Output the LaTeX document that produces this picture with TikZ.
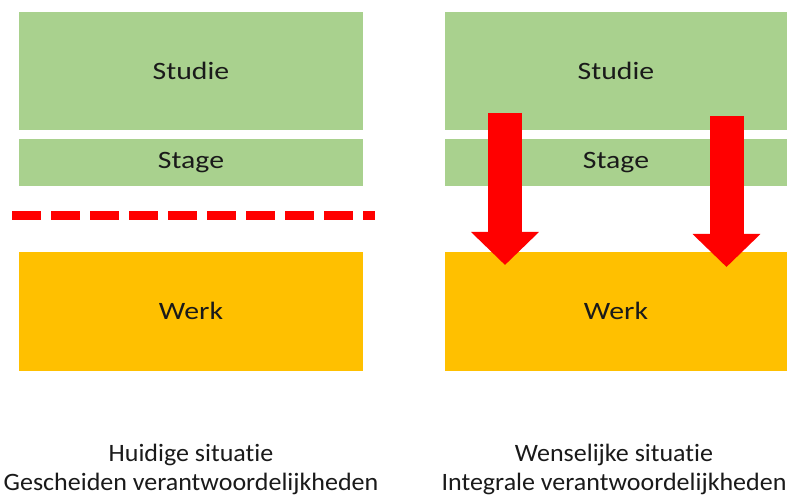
\documentclass[tikz,border=0pt]{standalone}
\usepackage{graphicx}
\usepackage{fontspec}
\setmainfont{Carlito}[Ligatures=NoCommon]
\usetikzlibrary{arrows.meta}
\definecolor{lgreen}{HTML}{A9D18E}
\definecolor{amber}{HTML}{FFC000}
\definecolor{bred}{HTML}{FF0000}
\definecolor{txt}{HTML}{1A1A1A}
\newcommand{\widetxt}[1]{\scalebox{1.19}[1]{#1}}
\newcommand{\captxt}[1]{\scalebox{1.04}[1]{#1}}
\tikzset{
  blk/.style={rectangle, inner sep=0pt, minimum width=344pt, text=txt,
    font=\fontsize{25}{30}\selectfont},
  studiebox/.style={blk, fill=lgreen, minimum height=118pt},
  stagebox/.style={blk, fill=lgreen, minimum height=46.5pt},
  werkbox/.style={blk, fill=amber, minimum height=119pt},
  divider/.style={draw=bred, line width=9pt, dash pattern=on 29pt off 10pt},
  bigarrow/.style={draw=bred, line width=34pt, -{Triangle[width=66pt,length=33pt]}},
  caption/.style={align=center, text=txt, font=\fontsize{25}{29}\selectfont, inner sep=0pt}
}
\begin{document}
\begin{tikzpicture}[x=1pt,y=-1pt]
\useasboundingbox[fill=white] (0,0) rectangle (787,497);
% left column
\node[studiebox] (studieL) at (191,71) {\widetxt{Studie}};
\node[stagebox]  (stageL)  at (191,162.5) {\widetxt{Stage}};
\node[werkbox]   (werkL)   at (191,311) {\widetxt{Werk}};
\coordinate (dashA) at (12,215.5);
\coordinate (dashB) at (375,215.5);
\draw[divider] (dashA) -- (dashB);
% right column
\node[studiebox, minimum width=342pt] (studieR) at (616,71) {\widetxt{Studie}};
\node[stagebox, minimum width=342pt]  (stageR)  at (616,162.5) {\widetxt{Stage}};
\node[werkbox, minimum width=342pt]   (werkR)   at (616,311) {\widetxt{Werk}};
\coordinate (a1s) at (505,113);
\coordinate (a1e) at (505,265);
\coordinate (a2s) at (726.5,116);
\coordinate (a2e) at (726.5,267);
\draw[bigarrow] (a1s) -- (a1e);
\draw[bigarrow] (a2s) -- (a2e);
% captions
\node[caption, anchor=base] (capL) at (191,490) {\captxt{Huidige situatie}\\\captxt{Gescheiden verantwoordelijkheden}};
\node[caption, anchor=base] (capR) at (614,490) {\captxt{Wenselijke situatie}\\\captxt{Integrale verantwoordelijkheden}};
\end{tikzpicture}
\end{document}
